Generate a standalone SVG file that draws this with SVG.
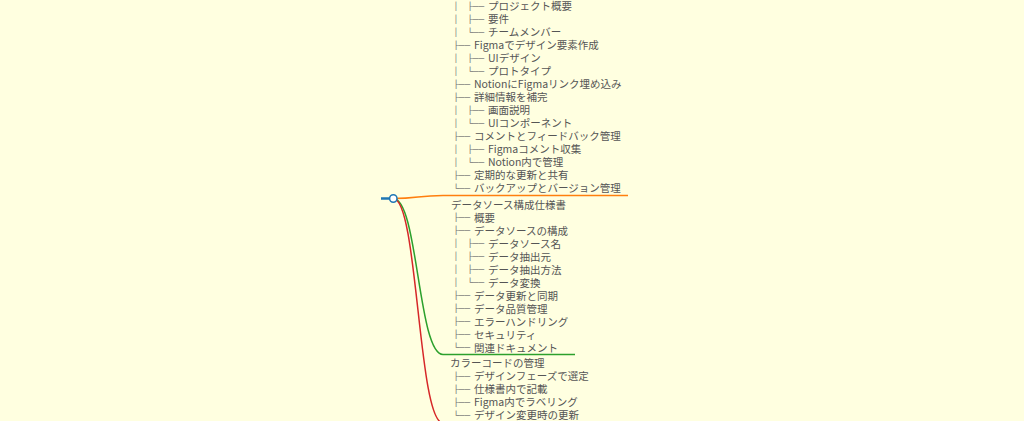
<svg xmlns="http://www.w3.org/2000/svg" width="1024" height="421" viewBox="0 0 1024 421">
<style>
.t{font-family:"Noto Sans CJK JP","DejaVu Sans",sans-serif;font-size:10.5px;fill:#555}
.b{font-family:"DejaVu Sans","Noto Sans CJK JP",sans-serif;font-size:8px;fill:#777}
.lk{fill:none;stroke-width:1.5}
</style>
<rect width="1024" height="421" fill="#ffffe0"/>
<g id="connectors">
<path class="lk" stroke="#ff7f0e" d="M393.3,198.5 C418,198.5 418,195.5 443,195.5 H628"/>
<path class="lk" stroke="#2ca02c" d="M393.3,198.5 C418,198.5 418,354.5 443,354.5 H575"/>
<path class="lk" stroke="#d62728" d="M393.3,198.5 C418,198.5 418,423 443,423 H600"/>
</g>
<g id="root">
<line x1="381" y1="198.5" x2="390" y2="198.5" stroke="#1f77b4" stroke-width="2.5"/>
<circle cx="393.3" cy="198.5" r="3.7" fill="#ffffff" stroke="#1f77b4" stroke-width="1.5"/>
</g>
<g id="node-figma" transform="translate(0,-0.8)">
<text class="b" x="453.6" y="9.8">│</text><text class="b" x="467.2" y="9.8" textLength="17" lengthAdjust="spacingAndGlyphs">├──</text><text class="t" x="488" y="11">プロジェクト概要</text>
<text class="b" x="453.6" y="22.8">│</text><text class="b" x="467.2" y="22.8" textLength="17" lengthAdjust="spacingAndGlyphs">├──</text><text class="t" x="488" y="24">要件</text>
<text class="b" x="453.6" y="35.8">│</text><text class="b" x="467.2" y="35.8" textLength="17" lengthAdjust="spacingAndGlyphs">└──</text><text class="t" x="488" y="37">チームメンバー</text>
<text class="b" x="453.2" y="48.8" textLength="17" lengthAdjust="spacingAndGlyphs">├──</text><text class="t" x="474" y="50">Figmaでデザイン要素作成</text>
<text class="b" x="453.6" y="61.8">│</text><text class="b" x="467.2" y="61.8" textLength="17" lengthAdjust="spacingAndGlyphs">├──</text><text class="t" x="488" y="63">UIデザイン</text>
<text class="b" x="453.6" y="74.8">│</text><text class="b" x="467.2" y="74.8" textLength="17" lengthAdjust="spacingAndGlyphs">└──</text><text class="t" x="488" y="76">プロトタイプ</text>
<text class="b" x="453.2" y="87.8" textLength="17" lengthAdjust="spacingAndGlyphs">├──</text><text class="t" x="474" y="89">NotionにFigmaリンク埋め込み</text>
<text class="b" x="453.2" y="100.8" textLength="17" lengthAdjust="spacingAndGlyphs">├──</text><text class="t" x="474" y="102">詳細情報を補完</text>
<text class="b" x="453.6" y="113.8">│</text><text class="b" x="467.2" y="113.8" textLength="17" lengthAdjust="spacingAndGlyphs">├──</text><text class="t" x="488" y="115">画面説明</text>
<text class="b" x="453.6" y="126.8">│</text><text class="b" x="467.2" y="126.8" textLength="17" lengthAdjust="spacingAndGlyphs">└──</text><text class="t" x="488" y="128">UIコンポーネント</text>
<text class="b" x="453.2" y="139.8" textLength="17" lengthAdjust="spacingAndGlyphs">├──</text><text class="t" x="474" y="141">コメントとフィードバック管理</text>
<text class="b" x="453.6" y="152.8">│</text><text class="b" x="467.2" y="152.8" textLength="17" lengthAdjust="spacingAndGlyphs">├──</text><text class="t" x="488" y="154">Figmaコメント収集</text>
<text class="b" x="453.6" y="165.8">│</text><text class="b" x="467.2" y="165.8" textLength="17" lengthAdjust="spacingAndGlyphs">└──</text><text class="t" x="488" y="167">Notion内で管理</text>
<text class="b" x="453.2" y="178.8" textLength="17" lengthAdjust="spacingAndGlyphs">├──</text><text class="t" x="474" y="180">定期的な更新と共有</text>
<text class="b" x="453.2" y="191.8" textLength="17" lengthAdjust="spacingAndGlyphs">└──</text><text class="t" x="474" y="193">バックアップとバージョン管理</text>
</g>
<g id="node-datasource" transform="translate(0,-0.8)">
<text class="t" x="451" y="209.5">データソース構成仕様書</text>
<text class="b" x="453.2" y="221.3" textLength="17" lengthAdjust="spacingAndGlyphs">├──</text><text class="t" x="474" y="222.5">概要</text>
<text class="b" x="453.2" y="234.3" textLength="17" lengthAdjust="spacingAndGlyphs">├──</text><text class="t" x="474" y="235.5">データソースの構成</text>
<text class="b" x="453.6" y="247.3">│</text><text class="b" x="467.2" y="247.3" textLength="17" lengthAdjust="spacingAndGlyphs">├──</text><text class="t" x="488" y="248.5">データソース名</text>
<text class="b" x="453.6" y="260.3">│</text><text class="b" x="467.2" y="260.3" textLength="17" lengthAdjust="spacingAndGlyphs">├──</text><text class="t" x="488" y="261.5">データ抽出元</text>
<text class="b" x="453.6" y="273.3">│</text><text class="b" x="467.2" y="273.3" textLength="17" lengthAdjust="spacingAndGlyphs">├──</text><text class="t" x="488" y="274.5">データ抽出方法</text>
<text class="b" x="453.6" y="286.3">│</text><text class="b" x="467.2" y="286.3" textLength="17" lengthAdjust="spacingAndGlyphs">└──</text><text class="t" x="488" y="287.5">データ変換</text>
<text class="b" x="453.2" y="299.3" textLength="17" lengthAdjust="spacingAndGlyphs">├──</text><text class="t" x="474" y="300.5">データ更新と同期</text>
<text class="b" x="453.2" y="312.3" textLength="17" lengthAdjust="spacingAndGlyphs">├──</text><text class="t" x="474" y="313.5">データ品質管理</text>
<text class="b" x="453.2" y="325.3" textLength="17" lengthAdjust="spacingAndGlyphs">├──</text><text class="t" x="474" y="326.5">エラーハンドリング</text>
<text class="b" x="453.2" y="338.3" textLength="17" lengthAdjust="spacingAndGlyphs">├──</text><text class="t" x="474" y="339.5">セキュリティ</text>
<text class="b" x="453.2" y="351.3" textLength="17" lengthAdjust="spacingAndGlyphs">└──</text><text class="t" x="474" y="352.5">関連ドキュメント</text>
</g>
<g id="node-colorcode" transform="translate(0,-0.8)">
<text class="t" x="450" y="368">カラーコードの管理</text>
<text class="b" x="453.2" y="379.8" textLength="17" lengthAdjust="spacingAndGlyphs">├──</text><text class="t" x="474" y="381">デザインフェーズで選定</text>
<text class="b" x="453.2" y="392.8" textLength="17" lengthAdjust="spacingAndGlyphs">├──</text><text class="t" x="474" y="394">仕様書内で記載</text>
<text class="b" x="453.2" y="405.8" textLength="17" lengthAdjust="spacingAndGlyphs">├──</text><text class="t" x="474" y="407">Figma内でラベリング</text>
<text class="b" x="453.2" y="418.8" textLength="17" lengthAdjust="spacingAndGlyphs">└──</text><text class="t" x="474" y="420">デザイン変更時の更新</text>
</g>
</svg>
